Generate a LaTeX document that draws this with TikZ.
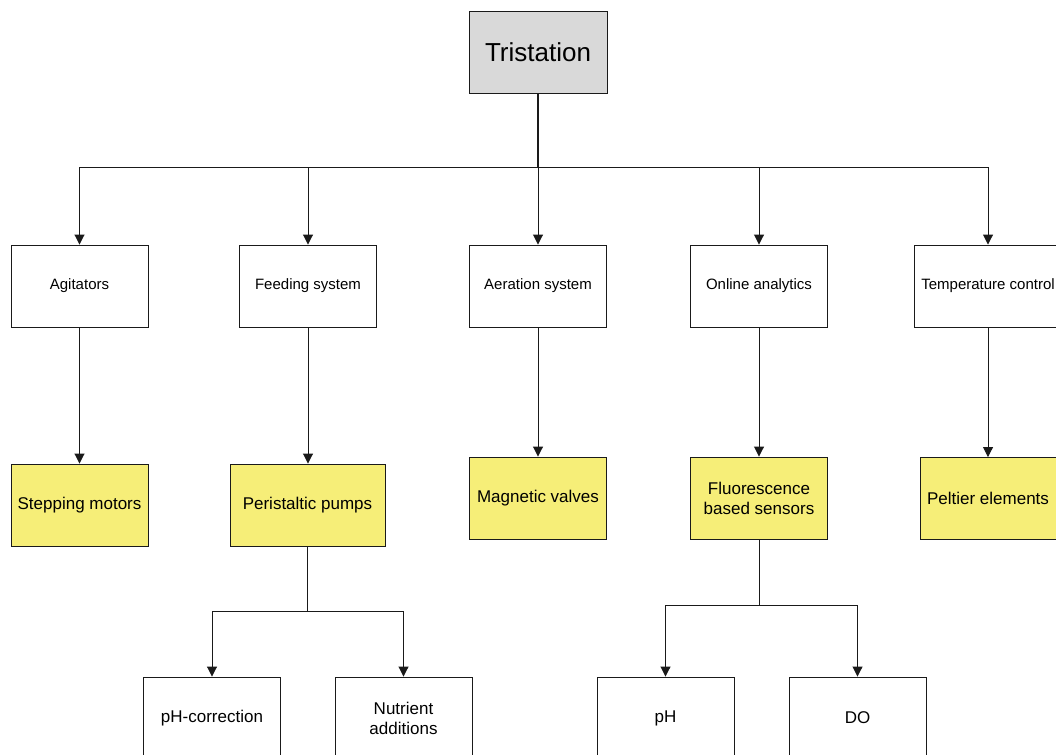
\documentclass[tikz,border=0pt]{standalone}
\usepackage{fontspec}
\setmainfont{Liberation Sans}
\usetikzlibrary{arrows.meta}
\definecolor{boxyellow}{HTML}{F6EE78}
\definecolor{boxgray}{HTML}{D9D9D9}
\definecolor{edge}{HTML}{1A1A1A}
\tikzset{
  base/.style={draw=edge, line width=0.9pt, inner sep=0pt, align=center, minimum height=82pt},
  top/.style={base, fill=boxgray, minimum width=138pt, font=\fontsize{26}{30}\selectfont},
  lvlone/.style={base, fill=white, minimum width=137pt, font=\fontsize{15}{18}\selectfont},
  lvltwo/.style={base, fill=boxyellow, minimum width=137pt, font=\fontsize{17}{20}\selectfont},
  lvlthree/.style={base, fill=white, minimum width=137pt, font=\fontsize{17}{20}\selectfont},
  conn/.style={draw=edge, line width=0.9pt},
  arr/.style={conn, -{Triangle[width=10pt,length=10pt]}},
}
\begin{document}
\begin{tikzpicture}[x=1pt,y=-1pt]
\useasboundingbox (0,0) rectangle (1056,754);
% top
\node[top] (tri) at (538,52) {Tristation};
% level 1
\node[lvlone] (agi) at (79.5,286) {Agitators};
\node[lvlone] (feed) at (308,286) {Feeding system};
\node[lvlone] (aer) at (538,286) {Aeration system};
\node[lvlone] (onl) at (759,286) {Online analytics};
\node[lvlone, minimum width=148pt] (tmp) at (988,286) {Temperature control};
% level 2
\node[lvltwo] (step) at (79.5,505) {Stepping motors};
\node[lvltwo, minimum width=155pt] (peri) at (307.5,505) {Peristaltic pumps};
\node[lvltwo] (magv) at (538,498) {Magnetic valves};
\node[lvltwo] (fluo) at (759,498) {Fluorescence\\based sensors};
\node[lvltwo, minimum width=136pt] (pelt) at (988,498.5) {Peltier elements};
% level 3
\node[lvlthree] (phc) at (212,718) {pH-correction};
\node[lvlthree] (nutr) at (403.5,718) {Nutrient\\additions};
\node[lvlthree] (ph) at (665.5,718) {pH};
\node[lvlthree] (do) at (857.5,718) {DO};
% bus coordinates
\coordinate (busA) at (538,167);
\coordinate (busB) at (307.5,611);
\coordinate (busC) at (759,605);
% trunk from top
\draw[conn, line width=1.4pt] (tri.south) -- (busA);
\foreach \n in {agi,feed,aer,onl,tmp}{
  \draw[arr] (busA) -| (\n.north);
}
% level1 -> level2
\draw[arr] (agi.south) -- (step.north);
\draw[arr] (feed.south) -- (feed.south |- peri.north);
\draw[arr] (aer.south) -- (magv.north);
\draw[arr] (onl.south) -- (fluo.north);
\draw[arr] (tmp.south) -- (pelt.north);
% level2 -> level3
\draw[conn] (peri.south) -- (busB);
\draw[arr] (busB) -| (phc.north);
\draw[arr] (busB) -| (nutr.north);
\draw[conn] (fluo.south) -- (busC);
\draw[arr] (busC) -| (ph.north);
\draw[arr] (busC) -| (do.north);
\end{tikzpicture}
\end{document}
